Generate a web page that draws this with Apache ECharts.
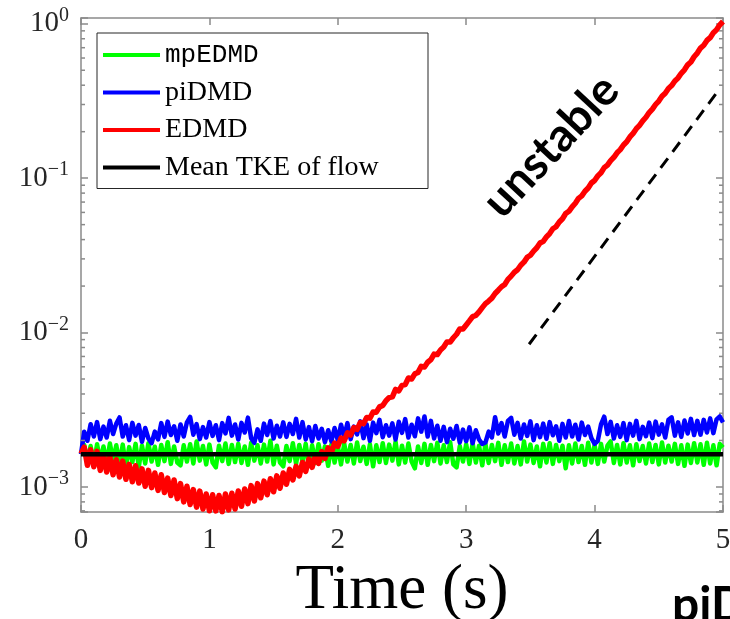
<!DOCTYPE html>
<html>
<head>
<meta charset="utf-8">
<script src="https://cdn.jsdelivr.net/npm/echarts@6/dist/echarts.min.js"></script>
<style>
  html, body { margin: 0; padding: 0; background: #ffffff; }
  #chart { width: 730px; height: 619px; }
</style>
</head>
<body>
<div id="chart"></div>
<script>
// Sampling step shared by every turbulent-kinetic-energy record (s)
const dt = 0.025;

// TKE predicted by mpEDMD (one value per dt, t = 0 … 5 s)
const mpEDMD = [
  1.63e-3, 1.87e-3, 1.44e-3, 1.84e-3, 1.41e-3, 1.89e-3, 1.46e-3, 1.83e-3,
  1.42e-3, 1.91e-3, 1.48e-3, 1.86e-3, 1.40e-3, 1.88e-3, 1.37e-3, 1.81e-3,
  1.45e-3, 1.90e-3, 1.35e-3, 1.85e-3, 1.42e-3, 1.92e-3, 1.46e-3, 1.82e-3,
  1.39e-3, 1.87e-3, 1.47e-3, 1.95e-3, 1.41e-3, 1.83e-3, 1.44e-3, 1.38e-3,
  1.86e-3, 1.46e-3, 1.89e-3, 1.42e-3, 1.97e-3, 1.48e-3, 1.84e-3, 1.40e-3,
  1.88e-3, 1.44e-3, 1.34e-3, 1.85e-3, 1.47e-3, 1.91e-3, 1.41e-3, 1.87e-3,
  1.45e-3, 1.90e-3, 1.43e-3, 1.83e-3, 1.39e-3, 1.93e-3, 1.48e-3, 1.86e-3,
  1.42e-3, 1.88e-3, 1.46e-3, 1.99e-3, 1.40e-3, 1.85e-3, 1.44e-3, 1.36e-3,
  1.84e-3, 1.47e-3, 1.92e-3, 1.41e-3, 1.87e-3, 1.45e-3, 1.90e-3, 1.38e-3,
  1.86e-3, 1.43e-3, 1.89e-3, 1.48e-3, 1.83e-3, 1.37e-3, 1.88e-3, 1.44e-3,
  1.85e-3, 1.40e-3, 1.91e-3, 1.46e-3, 1.87e-3, 1.42e-3, 1.94e-3, 1.47e-3,
  1.82e-3, 1.41e-3, 1.89e-3, 1.36e-3, 1.86e-3, 1.45e-3, 1.92e-3, 1.43e-3,
  1.88e-3, 1.48e-3, 1.96e-3, 1.40e-3, 1.85e-3, 1.44e-3, 1.91e-3, 1.46e-3,
  1.32e-3, 1.83e-3, 1.43e-3, 1.90e-3, 1.39e-3, 1.87e-3, 1.47e-3, 1.93e-3,
  1.42e-3, 1.86e-3, 1.45e-3, 1.95e-3, 1.40e-3, 1.34e-3, 1.84e-3, 1.46e-3,
  1.89e-3, 1.41e-3, 1.92e-3, 1.44e-3, 1.85e-3, 1.38e-3, 1.90e-3, 1.43e-3,
  1.87e-3, 1.47e-3, 1.93e-3, 1.39e-3, 1.86e-3, 1.45e-3, 1.91e-3, 1.42e-3,
  1.84e-3, 1.40e-3, 1.97e-3, 1.46e-3, 1.88e-3, 1.43e-3, 1.83e-3, 1.36e-3,
  1.90e-3, 1.44e-3, 1.92e-3, 1.41e-3, 1.87e-3, 1.47e-3, 1.85e-3, 1.32e-3,
  1.86e-3, 1.42e-3, 1.91e-3, 1.45e-3, 1.84e-3, 1.39e-3, 1.93e-3, 1.44e-3,
  1.88e-3, 1.41e-3, 1.90e-3, 1.46e-3, 1.85e-3, 1.97e-3, 1.43e-3, 1.87e-3,
  1.40e-3, 1.92e-3, 1.44e-3, 1.86e-3, 1.38e-3, 1.89e-3, 1.47e-3, 1.84e-3,
  1.42e-3, 1.91e-3, 1.45e-3, 1.87e-3, 1.40e-3, 1.94e-3, 1.44e-3, 1.85e-3,
  1.46e-3, 1.90e-3, 1.41e-3, 1.86e-3, 1.37e-3, 1.88e-3, 1.43e-3, 1.92e-3,
  1.44e-3, 1.89e-3, 1.39e-3, 1.93e-3, 1.42e-3, 1.86e-3, 1.38e-3, 1.90e-3,
  1.80e-3
];

// TKE predicted by piDMD
const piDMD = [
  1.63e-3, 2.28e-3, 1.99e-3, 2.55e-3, 2.12e-3, 2.63e-3, 2.04e-3, 2.46e-3,
  2.09e-3, 2.68e-3, 2.20e-3, 2.57e-3, 2.82e-3, 2.12e-3, 2.51e-3, 2.01e-3,
  2.60e-3, 2.15e-3, 2.52e-3, 1.96e-3, 2.41e-3, 2.06e-3, 1.92e-3, 2.28e-3,
  2.03e-3, 2.59e-3, 2.11e-3, 2.65e-3, 2.17e-3, 2.47e-3, 1.99e-3, 2.54e-3,
  2.12e-3, 2.62e-3, 2.84e-3, 2.18e-3, 2.55e-3, 2.04e-3, 2.44e-3, 2.09e-3,
  2.63e-3, 2.14e-3, 2.51e-3, 2.01e-3, 2.59e-3, 2.22e-3, 2.80e-3, 2.15e-3,
  2.54e-3, 2.03e-3, 2.60e-3, 2.25e-3, 2.81e-3, 2.07e-3, 1.93e-3, 2.36e-3,
  1.99e-3, 2.57e-3, 2.17e-3, 2.67e-3, 2.06e-3, 2.49e-3, 2.12e-3, 2.62e-3,
  2.11e-3, 2.56e-3, 2.20e-3, 2.76e-3, 2.09e-3, 2.63e-3, 2.03e-3, 2.44e-3,
  1.98e-3, 2.48e-3, 2.06e-3, 2.38e-3, 1.95e-3, 2.33e-3, 1.97e-3, 2.41e-3,
  2.01e-3, 2.53e-3, 2.12e-3, 2.59e-3, 2.04e-3, 2.46e-3, 2.19e-3, 2.66e-3,
  2.07e-3, 2.54e-3, 1.99e-3, 2.61e-3, 2.23e-3, 2.72e-3, 2.10e-3, 2.51e-3,
  2.15e-3, 2.58e-3, 2.03e-3, 2.64e-3, 2.24e-3, 2.75e-3, 2.09e-3, 2.53e-3,
  2.13e-3, 2.78e-3, 2.28e-3, 2.86e-3, 2.12e-3, 2.68e-3, 2.06e-3, 2.49e-3,
  1.99e-3, 2.45e-3, 1.95e-3, 2.38e-3, 2.05e-3, 2.48e-3, 1.94e-3, 2.35e-3,
  1.98e-3, 2.43e-3, 1.92e-3, 2.33e-3, 2.03e-3, 1.90e-3, 1.94e-3, 2.28e-3,
  2.09e-3, 2.83e-3, 2.22e-3, 2.59e-3, 2.12e-3, 2.68e-3, 2.80e-3, 2.18e-3,
  2.60e-3, 2.06e-3, 2.54e-3, 2.14e-3, 2.66e-3, 2.01e-3, 2.51e-3, 2.10e-3,
  2.57e-3, 2.05e-3, 2.63e-3, 2.16e-3, 2.47e-3, 1.99e-3, 2.56e-3, 2.09e-3,
  2.67e-3, 2.12e-3, 2.53e-3, 2.03e-3, 2.61e-3, 2.17e-3, 2.46e-3, 2.07e-3,
  1.90e-3, 1.99e-3, 2.54e-3, 2.85e-3, 2.20e-3, 2.64e-3, 2.06e-3, 2.51e-3,
  2.11e-3, 2.59e-3, 2.01e-3, 2.56e-3, 2.15e-3, 2.68e-3, 2.04e-3, 2.45e-3,
  2.13e-3, 2.61e-3, 2.07e-3, 2.65e-3, 2.18e-3, 2.54e-3, 2.09e-3, 2.72e-3,
  2.82e-3, 2.15e-3, 2.62e-3, 2.11e-3, 2.69e-3, 2.22e-3, 2.76e-3, 2.17e-3,
  2.68e-3, 2.18e-3, 2.72e-3, 2.25e-3, 2.78e-3, 2.23e-3, 2.74e-3, 2.86e-3,
  2.62e-3
];

// TKE predicted by plain EDMD (decays, then grows without bound)
const EDMD = [
  1.64e-3, 1.81e-3, 1.38e-3, 1.74e-3,
  1.35e-3, 1.70e-3, 1.28e-3, 1.61e-3,
  1.25e-3, 1.57e-3, 1.20e-3, 1.50e-3,
  1.16e-3, 1.47e-3, 1.12e-3, 1.40e-3,
  1.08e-3, 1.37e-3, 1.06e-3, 1.31e-3,
  1.01e-3, 1.28e-3, 9.9e-4, 1.23e-3,
  9.5e-4, 1.20e-3, 9.2e-4, 1.14e-3,
  8.8e-4, 1.11e-3, 8.4e-4, 1.05e-3,
  8.0e-4, 1.01e-3, 7.7e-4, 9.6e-4,
  7.4e-4, 9.4e-4, 7.2e-4, 9.0e-4,
  7.0e-4, 8.9e-4, 7.0e-4, 8.8e-4,
  6.9e-4, 9.0e-4, 7.1e-4, 9.1e-4,
  7.2e-4, 9.4e-4, 7.5e-4, 9.7e-4,
  7.8e-4, 1.02e-3, 8.1e-4, 1.05e-3,
  8.5e-4, 1.09e-3, 8.9e-4, 1.13e-3,
  9.3e-4, 1.18e-3, 9.8e-4, 1.23e-3,
  1.04e-3, 1.30e-3, 1.11e-3, 1.36e-3,
  1.18e-3, 1.44e-3, 1.26e-3, 1.52e-3,
  1.34e-3, 1.59e-3, 1.42e-3, 1.69e-3,
  1.53e-3, 1.79e-3, 1.67e-3, 1.92e-3,
  1.83e-3, 2.07e-3, 1.99e-3, 2.24e-3,
  2.17e-3, 2.42e-3, 2.36e-3, 2.61e-3,
  2.57e-3, 2.82e-3, 2.79e-3, 3.06e-3,
  3.05e-3, 3.30e-3, 3.37e-3, 3.62e-3,
  3.79e-3, 3.83e-3, 4.28e-3, 4.19e-3,
  4.55e-3, 4.60e-3, 5.08e-3, 5.00e-3,
  5.40e-3, 5.52e-3, 6.04e-3, 5.98e-3,
  6.42e-3, 6.67e-3, 7.25e-3, 7.20e-3,
  7.71e-3, 8.06e-3, 8.70e-3, 8.68e-3,
  9.25e-3, 9.75e-3, 1.056e-2, 1.055e-2,
  1.12e-2, 1.19e-2, 1.27e-2, 1.29e-2,
  1.36e-2, 1.45e-2, 1.54e-2, 1.60e-2,
  1.67e-2, 1.79e-2, 1.88e-2, 1.98e-2,
  2.05e-2, 2.21e-2, 2.32e-2, 2.46e-2,
  2.55e-2, 2.73e-2, 2.86e-2, 3.07e-2,
  3.17e-2, 3.37e-2, 3.54e-2, 3.80e-2,
  3.90e-2, 4.16e-2, 4.38e-2, 4.70e-2,
  4.85e-2, 5.20e-2, 5.46e-2, 5.90e-2,
  6.10e-2, 6.52e-2, 6.88e-2, 7.40e-2,
  7.68e-2, 8.23e-2, 8.64e-2, 9.30e-2,
  0.0966, 0.1035, 0.1085, 0.1170,
  0.1216, 0.1300, 0.1365, 0.1460,
  0.153, 0.164, 0.172, 0.185,
  0.195, 0.209, 0.220, 0.235,
  0.248, 0.266, 0.280, 0.300,
  0.316, 0.339, 0.355, 0.381,
  0.398, 0.426, 0.446, 0.478,
  0.503, 0.542, 0.566, 0.612,
  0.646, 0.696, 0.726, 0.780,
  0.813, 0.875, 0.915, 0.985,
  1.035
];

// Mean turbulent kinetic energy of the flow
const meanTKE = 1.63e-3;
const meanTKETimes = [0, 5];

// Reference growth-rate guide (dashed)
const guideTimes = [3.49, 4.98];
const guideValues = [8.4e-3, 0.385];

// Axis extents and minor log ticks
const xRange = [0, 5];
const yRange = [6.88e-4, 1.09];
const yMinorTicks = [
  7e-4, 8e-4, 9e-4,
  2e-3, 3e-3, 4e-3, 5e-3, 6e-3, 7e-3, 8e-3, 9e-3,
  2e-2, 3e-2, 4e-2, 5e-2, 6e-2, 7e-2, 8e-2, 9e-2,
  2e-1, 3e-1, 4e-1, 5e-1, 6e-1, 7e-1, 8e-1, 9e-1
];

const toPairs = values => values.map((v, i) => [+(i * dt).toFixed(3), v]);

const AXIS_GREY = '#8a8a8a';
const TEXT_DARK = '#262626';
const SERIF = '"Liberation Serif", "DejaVu Serif", serif';

function powerLabel(value) {
  const e = Math.round(Math.log10(value));
  if (Math.abs(value / Math.pow(10, e) - 1) > 1e-6) return '';
  const exp = e < 0 ? '\u2212' + (-e) : String(e);
  return '{b|10}{s|' + exp + '}';
}

const chart = echarts.init(document.getElementById('chart'), null, { renderer: 'canvas' });

const commonX = {
  type: 'value', min: xRange[0], max: xRange[1], interval: 1,
  axisLine: { show: true, onZero: false, lineStyle: { color: AXIS_GREY, width: 1.5 } },
  axisTick: { show: true, inside: true, length: 7, lineStyle: { color: AXIS_GREY, width: 1.5 } },
  splitLine: { show: false }
};
const commonY = {
  type: 'log', logBase: 10, min: yRange[0], max: yRange[1],
  axisLine: { show: true, onZero: false, lineStyle: { color: AXIS_GREY, width: 1.5 } },
  axisTick: { show: true, inside: true, length: 7, lineStyle: { color: AXIS_GREY, width: 1.5 } },
  splitLine: { show: false }
};

const option = {
  animation: false,
  backgroundColor: '#ffffff',
  grid: { left: 81, top: 18, width: 642, height: 494, containLabel: false, outerBoundsMode: 'none' },
  xAxis: [
    Object.assign({}, commonX, {
      position: 'bottom',
      axisLabel: { show: true, margin: 14, fontFamily: SERIF, fontSize: 29, color: TEXT_DARK },
      name: 'Time (s)', nameLocation: 'middle', nameGap: 37,
      nameTextStyle: { fontFamily: SERIF, fontSize: 63, color: '#000' }
    }),
    Object.assign({}, commonX, { position: 'top', axisLabel: { show: false } })
  ],
  yAxis: [
    Object.assign({}, commonY, {
      position: 'left',
      axisLabel: {
        show: true, margin: 12, formatter: powerLabel,
        rich: {
          b: { fontFamily: SERIF, fontSize: 29, color: TEXT_DARK, lineHeight: 36 },
          s: { fontFamily: SERIF, fontSize: 20, color: TEXT_DARK, lineHeight: 20, verticalAlign: 'top' }
        }
      }
    }),
    Object.assign({}, commonY, { position: 'right', axisLabel: { show: false } })
  ],
  legend: {
    left: 97, top: 33, orient: 'vertical',
    padding: [7, 8, 6, 6], itemGap: 7.5,
    itemWidth: 57, itemHeight: 4, icon: 'rect',
    borderColor: TEXT_DARK, borderWidth: 1, backgroundColor: '#ffffff',
    textStyle: { fontFamily: SERIF, fontSize: 28, color: '#000', lineHeight: 30, width: 255 },
    data: [
      { name: 'mpEDMD', textStyle: { fontFamily: '"Liberation Mono", "DejaVu Sans Mono", monospace', fontSize: 26 } },
      { name: 'piDMD' },
      { name: 'EDMD' },
      { name: 'Mean TKE of flow' }
    ]
  },
  series: [
    {
      name: 'mpEDMD', type: 'line', data: toPairs(mpEDMD), showSymbol: false, symbol: 'none',
      lineStyle: { color: '#00ff00', width: 4.5, join: 'round' }, itemStyle: { color: '#00ff00' }, z: 2
    },
    {
      name: 'piDMD', type: 'line', data: toPairs(piDMD), showSymbol: false, symbol: 'none',
      lineStyle: { color: '#0000ff', width: 4.5, join: 'round' }, itemStyle: { color: '#0000ff' }, z: 2
    },
    {
      name: 'EDMD', type: 'line', data: toPairs(EDMD), showSymbol: false, symbol: 'none',
      lineStyle: { color: '#ff0000', width: 5.5, join: 'round' }, itemStyle: { color: '#ff0000' }, z: 2
    },
    {
      name: 'Mean TKE of flow', type: 'line',
      data: meanTKETimes.map(t => [t, meanTKE]), showSymbol: false, symbol: 'none',
      lineStyle: { color: '#000000', width: 4.5 }, itemStyle: { color: '#000000' }, z: 2
    },
    {
      name: 'growth guide', type: 'line',
      data: guideTimes.map((t, i) => [t, guideValues[i]]), showSymbol: false, symbol: 'none',
      lineStyle: { color: '#000000', width: 3, type: [12, 8] }, z: 2
    },
    {
      // minor log ticks on the left and right frame edges
      name: 'minor ticks', type: 'custom', silent: true, clip: false, z: 3,
      encode: { x: 0, y: 1 },
      data: yMinorTicks.map(v => [xRange[0], v]),
      renderItem(params, api) {
        const v = api.value(1);
        const l = api.coord([xRange[0], v]);
        const r = api.coord([xRange[1], v]);
        const st = { stroke: AXIS_GREY, lineWidth: 1.5 };
        return {
          type: 'group',
          children: [
            { type: 'line', shape: { x1: l[0], y1: l[1], x2: l[0] + 4, y2: l[1] }, style: st },
            { type: 'line', shape: { x1: r[0] - 4, y1: r[1], x2: r[0], y2: r[1] }, style: st }
          ]
        };
      }
    }
  ],
  graphic: [
    {
      type: 'text', x: 551, y: 146, rotation: 47 * Math.PI / 180, z: 10,
      style: { text: 'unstable', font: 'bold 46px Lato, "Open Sans", sans-serif', fill: '#000', align: 'center', verticalAlign: 'middle' }
    },
    {
      type: 'text', x: 672, y: 606, z: 10,
      style: { text: 'piDMD', font: 'bold 48px Lato, "Open Sans", sans-serif', fill: '#000', align: 'left', verticalAlign: 'middle' }
    }
  ]
};

chart.setOption(option);
</script>
</body>
</html>
